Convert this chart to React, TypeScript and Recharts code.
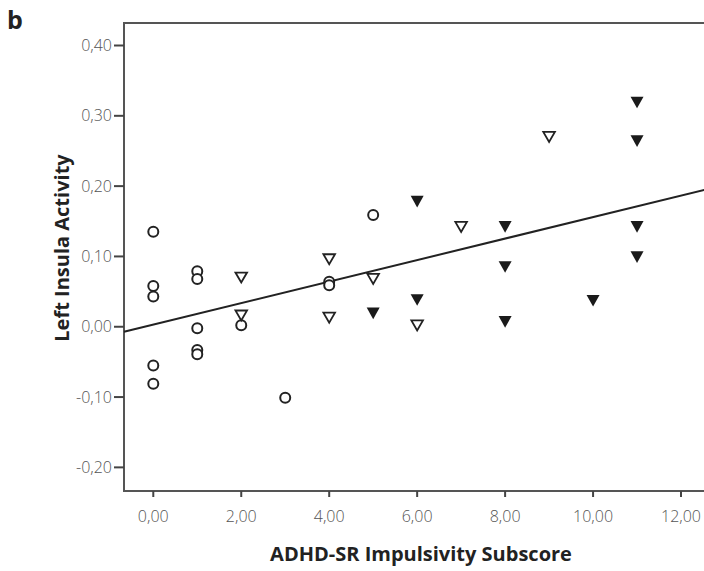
import React from 'react';
import { ScatterChart, Scatter, XAxis, YAxis, ReferenceLine, ReferenceArea } from 'recharts';

// group 1: open circles
const circleX = [0, 0, 0, 0, 0, 1, 1, 1, 1, 1, 2, 3, 4, 4, 5];
const circleY = [0.135, 0.058, 0.043, -0.055, -0.081, 0.079, 0.068, -0.002, -0.033, -0.039, 0.002, -0.101, 0.064, 0.059, 0.159];

// group 2: open triangles
const openTriX = [2, 2, 4, 4, 5, 6, 7, 9];
const openTriY = [0.07, 0.016, 0.096, 0.013, 0.068, 0.002, 0.142, 0.27];

// group 3: filled triangles
const filledTriX = [5, 6, 6, 8, 8, 8, 10, 11, 11, 11, 11];
const filledTriY = [0.019, 0.178, 0.038, 0.142, 0.085, 0.007, 0.037, 0.319, 0.264, 0.142, 0.099];

// fit line
const fitIntercept = 0.003;
const fitSlope = 0.0153;

const xTicks = [0, 2, 4, 6, 8, 10, 12];
const yTicks = [-0.2, -0.1, 0, 0.1, 0.2, 0.3, 0.4];
const xDomain: [number, number] = [-0.666, 13];
const yDomain: [number, number] = [-0.2336, 0.432];

const toPoints = (xs: number[], ys: number[]) => xs.map((x, i) => ({ x, y: ys[i] }));

const circles = toPoints(circleX, circleY);
const openTris = toPoints(openTriX, openTriY);
const filledTris = toPoints(filledTriX, filledTriY);

const fmt = (v: number) => v.toFixed(2).replace('.', ',');

const Circle = (props: any) => {
  const { cx, cy } = props;
  return <circle cx={cx} cy={cy} r={5} fill="#fff" stroke="#222" strokeWidth={2} />;
};

const OpenTri = (props: any) => {
  const { cx, cy } = props;
  const w = 5.8, h = 5;
  return (
    <path
      d={`M${cx - w},${cy - h} L${cx + w},${cy - h} L${cx},${cy + h} Z`}
      fill="#fff"
      stroke="#222"
      strokeWidth={1.8}
    />
  );
};

const FilledTri = (props: any) => {
  const { cx, cy } = props;
  const w = 6.5, h = 5.8;
  return <path d={`M${cx - w},${cy - h} L${cx + w},${cy - h} L${cx},${cy + h} Z`} fill="#1a1a1a" />;
};

const font = '"Open Sans", "Noto Sans", sans-serif';
const tickStyle = { fontSize: 16, fill: '#555', fontFamily: font, fontWeight: 300 };

const App: React.FC = () => {
  return (
    <div style={{ position: 'absolute', left: 0, top: 0, width: 704, height: 571, overflow: 'hidden', background: '#fff' }}>
      <div style={{ position: 'absolute', left: 7, top: 7, fontFamily: font, fontWeight: 700, fontSize: 25, lineHeight: '25px', color: '#222' }}>
        b
      </div>
      <ScatterChart width={740} height={571} margin={{ top: 23, right: 15, bottom: 0, left: 0 }}>
        <XAxis
          type="number"
          dataKey="x"
          domain={xDomain}
          ticks={xTicks}
          allowDataOverflow
          axisLine={false}
          tickLine={{ stroke: '#444', strokeWidth: 2 }}
          tickSize={6}
          tickMargin={14}
          tick={tickStyle}
          tickFormatter={fmt}
          height={80}
        />
        <YAxis
          type="number"
          dataKey="y"
          domain={yDomain}
          ticks={yTicks}
          allowDataOverflow
          axisLine={false}
          tickLine={{ stroke: '#444', strokeWidth: 2 }}
          tickSize={10}
          tickMargin={2}
          tick={tickStyle}
          tickFormatter={fmt}
          width={124}
        />
        <ReferenceArea
          x1={xDomain[0]}
          x2={xDomain[1]}
          y1={yDomain[0]}
          y2={yDomain[1]}
          fill="none"
          fillOpacity={0}
          stroke="#555"
          strokeWidth={2}
        />
        <ReferenceLine
          segment={[
            { x: xDomain[0], y: fitIntercept + fitSlope * xDomain[0] },
            { x: xDomain[1], y: fitIntercept + fitSlope * xDomain[1] },
          ]}
          stroke="#222"
          strokeWidth={2}
        />
        <Scatter data={circles} shape={Circle} isAnimationActive={false} />
        <Scatter data={openTris} shape={OpenTri} isAnimationActive={false} />
        <Scatter data={filledTris} shape={FilledTri} isAnimationActive={false} />
      </ScatterChart>
      <div
        style={{
          position: 'absolute',
          left: 62,
          top: 248,
          transform: 'translate(-50%, -50%) rotate(-90deg)',
          whiteSpace: 'nowrap',
          fontFamily: font,
          fontWeight: 700,
          fontSize: 20,
          lineHeight: '20px',
          color: '#222',
        }}
      >
        Left Insula Activity
      </div>
      <div
        style={{
          position: 'absolute',
          left: 421,
          top: 544,
          transform: 'translateX(-50%)',
          whiteSpace: 'nowrap',
          fontFamily: font,
          fontWeight: 700,
          fontSize: 20,
          lineHeight: '20px',
          color: '#222',
        }}
      >
        ADHD-SR Impulsivity Subscore
      </div>
    </div>
  );
};

export default App;
